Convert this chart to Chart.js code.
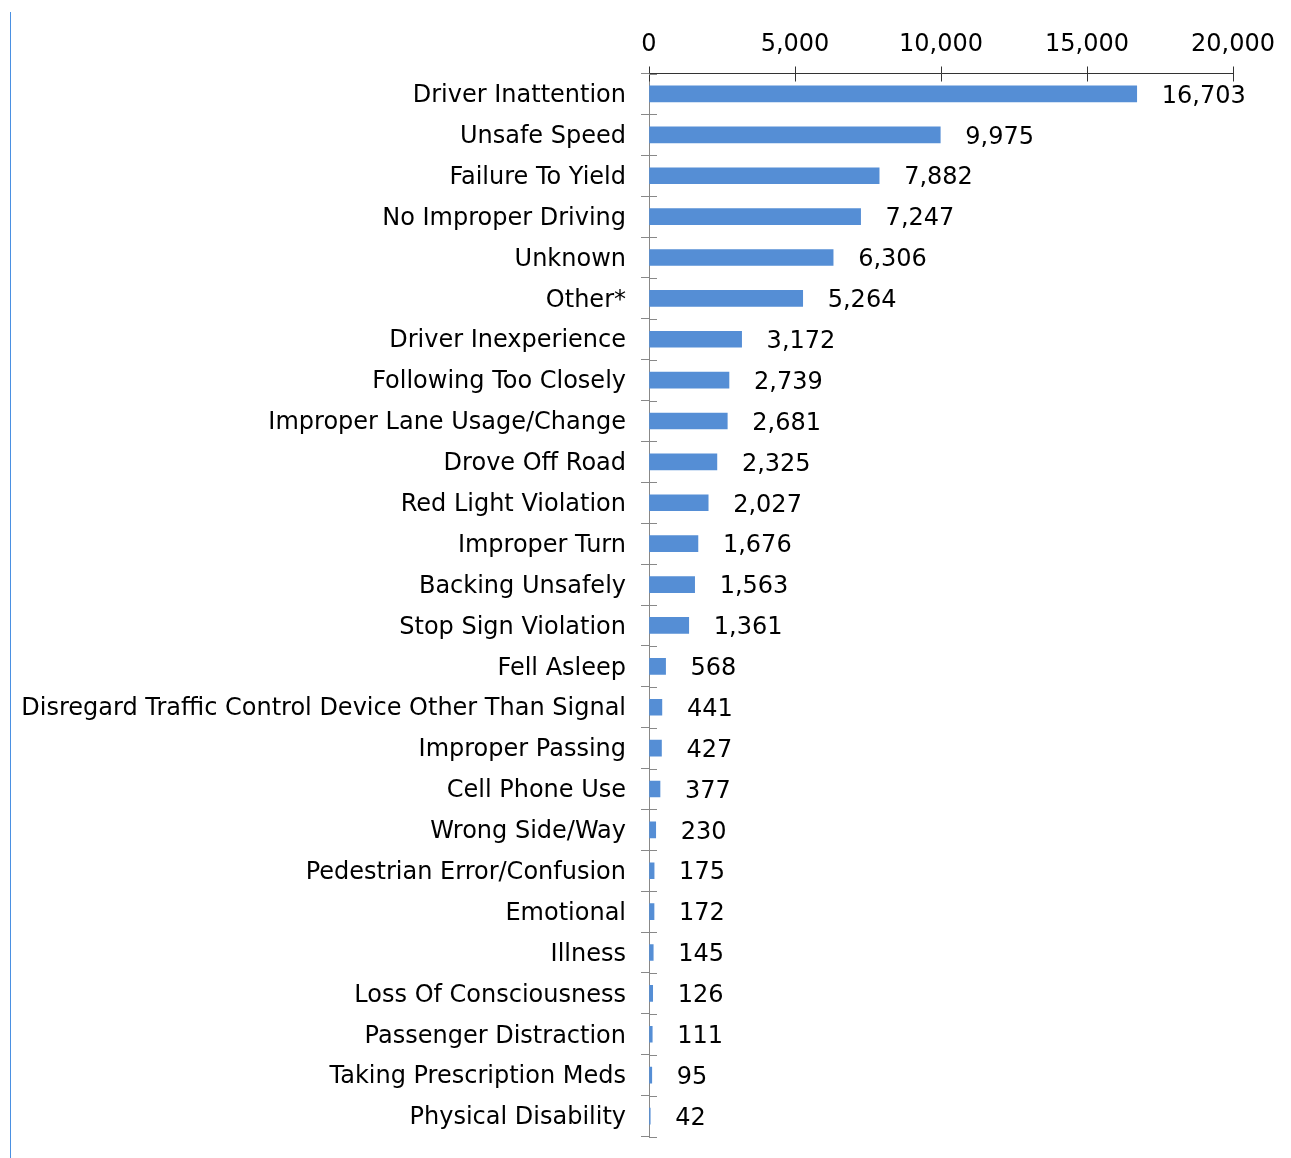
<!DOCTYPE html>
<html>
<head>
<meta charset="utf-8">
<script src="https://cdn.jsdelivr.net/npm/chart.js@4/dist/chart.umd.min.js"></script>
<style>
  body { margin: 0; background: #fff; }
  #wrap { position: relative; width: 1291px; height: 1158px; }
  #edge { position: absolute; left: 10px; top: 12px; bottom: 0; width: 1px; background: #4a90e2; }
</style>
</head>
<body>
<div id="wrap">
  <div id="edge"></div>
  <canvas id="chart"></canvas>
</div>
<script>
// 사고 원인별 건수
const causes = [
    'Driver Inattention', 'Unsafe Speed', 'Failure To Yield', 'No Improper Driving',
    'Unknown', 'Other*', 'Driver Inexperience', 'Following Too Closely',
    'Improper Lane Usage/Change', 'Drove Off Road', 'Red Light Violation', 'Improper Turn',
    'Backing Unsafely', 'Stop Sign Violation', 'Fell Asleep',
    'Disregard Traffic Control Device Other Than Signal', 'Improper Passing', 'Cell Phone Use',
    'Wrong Side/Way', 'Pedestrian Error/Confusion', 'Emotional', 'Illness',
    'Loss Of Consciousness', 'Passenger Distraction', 'Taking Prescription Meds', 'Physical Disability'
];
const counts = [
    16703, 9975, 7882, 7247, 6306, 5264, 3172, 2739, 2681, 2325, 2027, 1676, 1563,
    1361, 568, 441, 427, 377, 230, 175, 172, 145, 126, 111, 95, 42
];
const axisTicks = [0, 5000, 10000, 15000, 20000];

const FONT = { family: '"DejaVu Sans", Verdana, sans-serif', size: 24 };

// 축 안쪽으로 들어가는 눈금 절반 그리기
const innerTicks = {
    id: 'innerTicks',
    afterDraw(chart) {
        const ctx = chart.ctx;
        const x = chart.scales.x, y = chart.scales.y;
        ctx.save();
        ctx.lineWidth = 1;
        ctx.strokeStyle = '#333333';
        axisTicks.forEach(v => {
            const px = Math.round(x.getPixelForValue(v)) + 0.5;
            ctx.beginPath();
            ctx.moveTo(px, x.bottom);
            ctx.lineTo(px, x.bottom + 8);
            ctx.stroke();
        });
        ctx.strokeStyle = '#888888';
        for (let i = 0; i <= causes.length; i++) {
            const py = Math.round(y.getPixelForValue(i - 0.5)) + 0.5;
            ctx.beginPath();
            ctx.moveTo(y.right, py);
            ctx.lineTo(y.right + 8, py);
            ctx.stroke();
        }
        ctx.restore();
    }
};

// 막대 오른쪽 값 표시
const valueLabels = {
    id: 'valueLabels',
    afterDatasetsDraw(chart) {
        const ctx = chart.ctx;
        const meta = chart.getDatasetMeta(0);
        ctx.save();
        ctx.font = FONT.size + 'px ' + FONT.family;
        ctx.fillStyle = '#000';
        ctx.textAlign = 'left';
        ctx.textBaseline = 'middle';
        meta.data.forEach((bar, i) => {
            ctx.fillText(counts[i].toLocaleString('en-US'), bar.x + 25, bar.y + 2.5);
        });
        ctx.restore();
    }
};

new Chart(document.getElementById('chart'), {
    type: 'bar',
    data: {
        labels: causes,
        datasets: [{
            data: counts,
            backgroundColor: '#558ed5',
            borderWidth: 0,
            barThickness: 16
        }]
    },
    options: {
        indexAxis: 'y',
        responsive: true,
        maintainAspectRatio: false,
        animation: false,
        layout: { padding: { left: 0, right: 58, top: 0, bottom: 21.5 } },
        plugins: { legend: { display: false }, tooltip: { enabled: false } },
        scales: {
            x: {
                position: 'top',
                min: 0,
                max: 20000,
                afterBuildTicks(scale) { scale.ticks = axisTicks.map(v => ({ value: v })); },
                afterFit(scale) {
                    scale.height = 73.5;
                    scale.paddingLeft = 0;
                    scale.paddingRight = 0;
                },
                grid: { drawOnChartArea: false, drawTicks: true, tickLength: 7, color: '#333333' },
                border: { color: '#333333', width: 1 },
                ticks: {
                    color: '#000',
                    font: FONT,
                    padding: 7,
                    maxRotation: 0,
                    callback: v => v.toLocaleString('en-US')
                }
            },
            y: {
                afterFit(scale) {
                    scale.width = 649;
                    scale.paddingTop = 0;
                    scale.paddingBottom = 0;
                },
                grid: { drawOnChartArea: false, drawTicks: true, tickLength: 8, color: '#888888', offset: true },
                border: { color: '#888888', width: 1 },
                ticks: { color: '#000', font: FONT, padding: 15, labelOffset: 2, autoSkip: false }
            }
        }
    },
    plugins: [innerTicks, valueLabels]
});
</script>
</body>
</html>
